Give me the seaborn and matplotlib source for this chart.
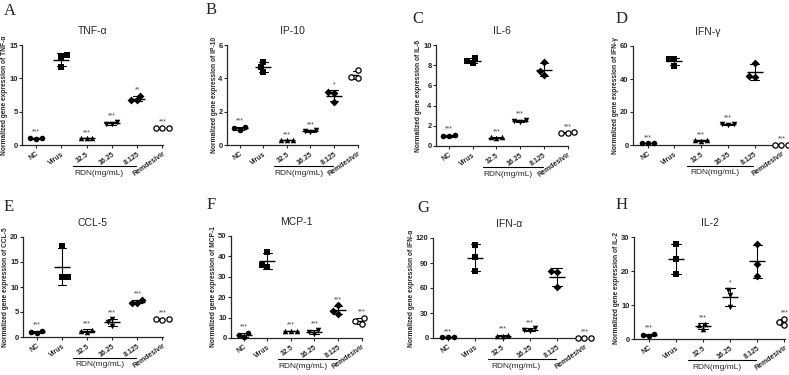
import numpy as np
import pandas as pd
import matplotlib
matplotlib.use("Agg")
import matplotlib.pyplot as plt
import matplotlib.transforms as mtransforms
import seaborn as sns

# groups and marker per group (GraphPad style scatter dot plot)
groups = ["NC", "Virus", "32.5", "16.25", "8.125", "Remdesivir"]
markers = ["o", "s", "^", "v", "D", "o"]

# 3 replicates per group
tnf_a = [[1.1, 0.95, 1.0], [13.5, 13.2, 11.7], [1.0, 1.0, 1.0], [3.5, 3.1, 3.2], [7.4, 6.7, 6.8], [2.6, 2.5, 2.6]]
ip_10 = [[1.1, 0.9, 1.0], [5.0, 4.4, 4.7], [0.3, 0.3, 0.3], [0.9, 0.8, 0.85], [3.2, 3.1, 2.6], [4.5, 4.0, 4.1]]
il_6 = [[1.1, 0.95, 1.0], [8.7, 8.2, 8.4], [0.85, 0.8, 0.85], [2.6, 2.4, 2.5], [8.3, 7.0, 7.4], [1.35, 1.3, 1.3]]
ifn_g = [[1.0, 1.0, 1.0], [52.0, 52.0, 48.0], [3.0, 2.5, 2.8], [13.0, 12.0, 12.5], [50.0, 41.0, 42.0], [0.3, 0.3, 0.3]]
ccl_5 = [[1.3, 0.8, 1.0], [18.3, 12.0, 12.0], [1.5, 1.0, 1.3], [3.7, 2.3, 3.0], [7.5, 6.9, 6.9], [3.7, 3.5, 3.6]]
mcp_1 = [[2.5, 0.5, 1.5], [42.0, 35.0, 36.0], [3.5, 3.5, 3.5], [4.0, 2.0, 3.0], [16.0, 12.0, 13.0], [10.0, 7.0, 8.5]]
ifn_a = [[1.0, 1.0, 1.0], [112.0, 97.0, 80.0], [4.0, 2.0, 3.0], [12.0, 8.0, 10.0], [80.0, 79.0, 61.0], [0.5, 0.5, 0.5]]
il_2 = [[1.5, 0.8, 1.2], [28.0, 23.5, 19.0], [4.5, 3.0, 4.0], [14.5, 13.0, 9.5], [28.0, 22.0, 18.5], [6.0, 4.0, 5.0]]

# significance labels vs Virus
tnf_a_stars = ["***", "", "***", "***", "**", "***"]
ip_10_stars = ["***", "", "***", "***", "*", ""]
il_6_stars = ["***", "", "***", "***", "", "***"]
ifn_g_stars = ["***", "", "***", "***", "", "***"]
ccl_5_stars = ["***", "", "***", "***", "***", "***"]
mcp_1_stars = ["***", "", "***", "***", "***", "***"]
ifn_a_stars = ["***", "", "***", "***", "", "***"]
il_2_stars = ["***", "", "***", "*", "", "***"]

letters = ["A", "B", "C", "D", "E", "F", "G", "H"]
titles = ["TNF-α", "IP-10", "IL-6", "IFN-γ", "CCL-5", "MCP-1", "IFN-α", "IL-2"]
data = [tnf_a, ip_10, il_6, ifn_g, ccl_5, mcp_1, ifn_a, il_2]
stars = [tnf_a_stars, ip_10_stars, il_6_stars, ifn_g_stars,
         ccl_5_stars, mcp_1_stars, ifn_a_stars, il_2_stars]
y_max = [15, 6, 10, 60, 20, 50, 120, 30]
y_step = [5, 2, 2, 20, 5, 10, 30, 10]

# layout in pixels: (left, top, right, bottom) of each axes, letter position
W, H = 789, 375
boxes = [(22, 45, 163, 145), (227, 45, 358, 145), (436, 45, 568, 146), (633, 46, 782, 145),
         (23, 237, 163, 337), (231, 236, 362, 338), (433, 238, 585, 338), (634, 237, 785, 339)]
letter_pos = [(4, 3), (206, 2), (412, 11), (616, 11),
              (4, 199), (207, 197), (417, 200), (616, 197)]

sns.set_style("ticks")
plt.rcParams["font.family"] = ["Liberation Sans", "DejaVu Sans"]
plt.rcParams["axes.linewidth"] = 0.9

fig = plt.figure(figsize=(W / 100, H / 100), dpi=100)

for i in range(8):
    l, t, r, b = boxes[i]
    ax = fig.add_axes([l / W, 1 - b / H, (r - l) / W, (b - t) / H])
    df = pd.DataFrame({"group": np.repeat(groups, 3),
                       "value": np.concatenate(data[i])})

    # mean line + SD whiskers
    sns.pointplot(data=df, x="group", y="value", order=groups, errorbar="sd",
                  color="black", linestyle="none", marker="_", markersize=12,
                  markeredgewidth=1.0, capsize=0.35, err_kws={"linewidth": 0.8}, ax=ax)

    # individual replicates
    for g, m in zip(groups, markers):
        sub = df[df["group"] == g]
        if g == "Remdesivir":
            sns.swarmplot(data=sub, x="group", y="value", order=groups, marker=m, size=3.8,
                          color="white", edgecolor="black", linewidth=0.9, ax=ax)
        else:
            sns.swarmplot(data=sub, x="group", y="value", order=groups, marker=m, size=4,
                          color="black", ax=ax)
    for c in ax.collections:
        c.set_clip_on(False)

    # stars above each group
    stats = df.groupby("group", sort=False)["value"].agg(["mean", "std", "max"])
    for k, g in enumerate(groups):
        if stars[i][k]:
            top = max(stats.loc[g, "mean"] + stats.loc[g, "std"], stats.loc[g, "max"])
            ax.text(k, top + y_max[i] * 0.02, stars[i][k], ha="center", va="bottom",
                    fontsize=5, color="#444444")

    ax.set_xlim(-0.55, 5.02)
    ax.set_ylim(0, y_max[i])
    ax.set_yticks(np.arange(0, y_max[i] + 0.01, y_step[i]))
    ax.set_xticks(range(6))
    ax.set_xticklabels(groups, rotation=35, ha="right", rotation_mode="anchor",
                       fontsize=5, fontweight="bold")
    for lab in ax.get_yticklabels():
        lab.set_fontweight("bold")
    ax.tick_params(axis="y", labelsize=5.5, length=2.2, width=0.8, pad=1)
    ax.tick_params(axis="x", length=2.5, width=0.8, pad=1.5)
    ax.set_xlabel("")
    ax.set_ylabel("Normalized gene expression of " + titles[i], fontsize=4.8,
                  fontweight="bold", labelpad=0.5)
    ax.set_title(titles[i], fontsize=7.5, pad=8)
    sns.despine(ax=ax)

    # RDN bracket under the dose labels
    trans = mtransforms.blended_transform_factory(ax.transData, ax.transAxes)
    ax.plot([1.45, 3.95], [-0.21, -0.21], color="black", lw=0.8, transform=trans, clip_on=False)
    ax.text(2.5, -0.28, "RDN(mg/mL)", ha="center", va="center", fontsize=6, transform=trans)

    lx, ly = letter_pos[i]
    fig.text(lx / W, 1 - ly / H, letters[i], ha="left", va="top", fontsize=12,
             family=["Liberation Serif", "DejaVu Serif"])

fig.savefig("out.png", dpi=100)
